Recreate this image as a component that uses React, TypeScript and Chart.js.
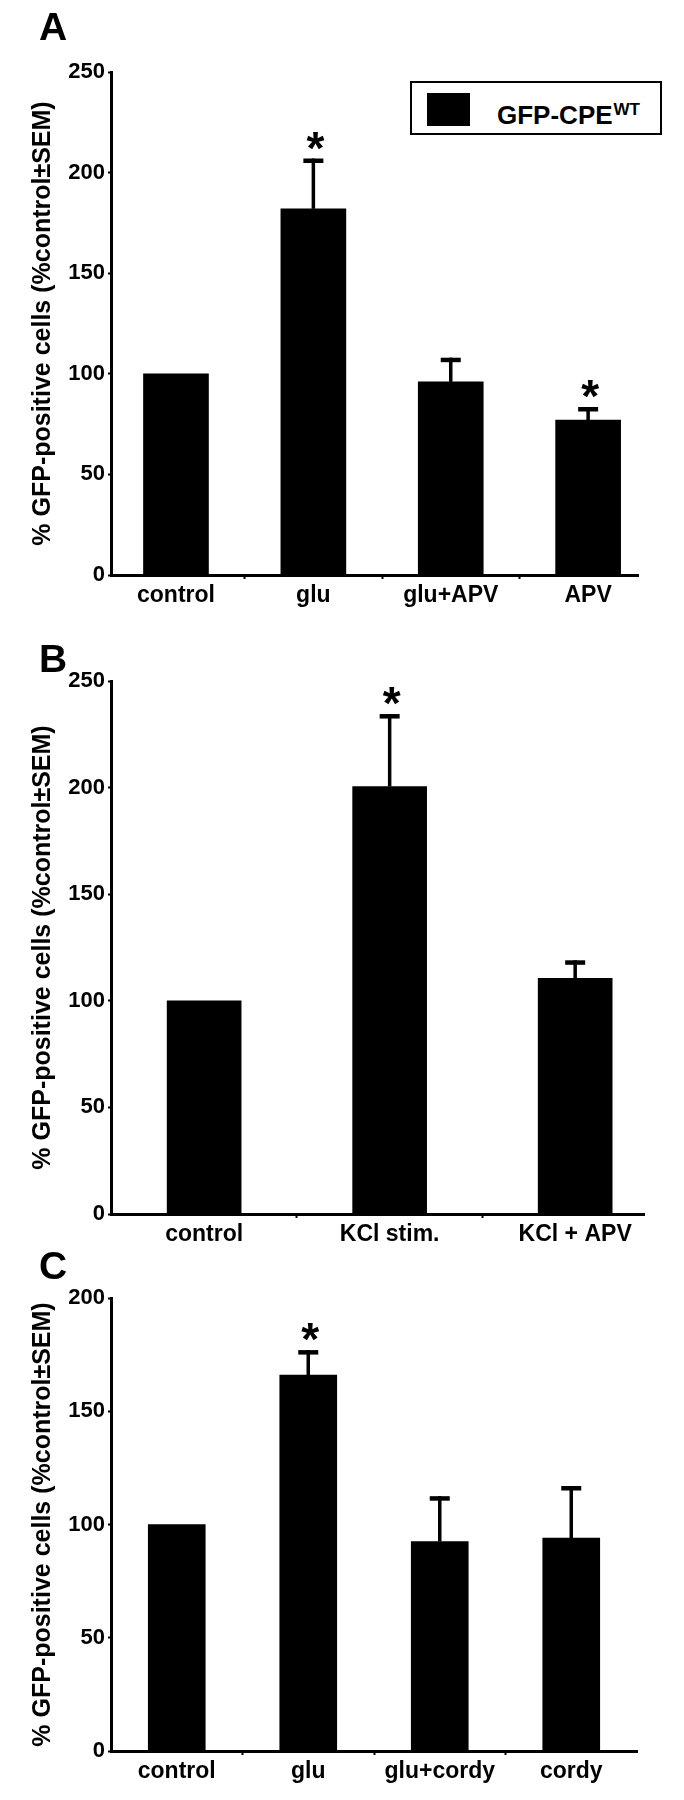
import React, { useEffect, useRef } from 'react';
import { Chart, registerables } from 'chart.js';

Chart.register(...registerables);

// ---------- data ----------
const yTitle = '% GFP-positive cells (%control\u00B1SEM)';
const legendLabel = 'GFP-CPE';
const legendSup = 'WT';

const catsA = ['control', 'glu', 'glu+APV', 'APV'];
const meanA = [100, 182, 96, 77];
const semA = [0, 25, 12, 6.5];
const sigA = [false, true, false, true];

const catsB = ['control', 'KCl stim.', 'KCl + APV'];
const meanB = [100, 200.5, 110.5];
const semB = [0, 34, 8.5];
const sigB = [false, true, false];

const catsC = ['control', 'glu', 'glu+cordy', 'cordy'];
const meanC = [100, 166, 92.5, 94];
const semC = [0, 11, 20, 23];
const sigC = [false, true, false, false];

const yMaxAB = 250;
const yMaxC = 200;
const yStep = 50;

const FONT = '"Liberation Sans", Arial, Helvetica, sans-serif';

const errPlugin = {
  id: 'errBars',
  afterDatasetsDraw(chart: any, _args: any, opts: any) {
    const { ctx } = chart;
    const meta = chart.getDatasetMeta(0);
    const ys = chart.scales.y;
    const { means, sems, stars } = opts;
    ctx.save();
    ctx.fillStyle = '#000';
    meta.data.forEach((bar: any, i: number) => {
      const x = bar.x;
      const yBar = bar.y;
      const yTop = ys.getPixelForValue(means[i] + sems[i]);
      if (sems[i] > 0) {
        ctx.fillRect(x - 1.75, yTop, 3.5, yBar - yTop);
        ctx.fillRect(x - 10, yTop, 20, 4.5);
      }
      if (stars[i]) {
        ctx.font = `bold 46px ${FONT}`;
        ctx.textAlign = 'center';
        ctx.textBaseline = 'alphabetic';
        const m = ctx.measureText('*');
        const cy = yTop - 18;
        const base = cy + (m.actualBoundingBoxAscent - m.actualBoundingBoxDescent) / 2;
        ctx.fillText('*', x + 2, base);
      }
    });
    ctx.restore();
  },
};

type PanelProps = {
  cats: string[];
  means: number[];
  sems: number[];
  stars: boolean[];
  yMax: number;
  top: number;
  height: number;
  padTop: number;
  padRight: number;
  padBottom: number;
  xAxisH: number;
  xMin: number;
  xMax: number;
  bar: number;
};

function Panel(p: PanelProps) {
  const ref = useRef<HTMLCanvasElement>(null);
  useEffect(() => {
    if (!ref.current) return;
    const tickVals: number[] = [];
    p.cats.forEach((_c, i) => {
      tickVals.push(i);
      if (i < p.cats.length - 1) tickVals.push(i + 0.5);
    });
    const chart = new Chart(ref.current, {
      type: 'bar',
      data: {
        datasets: [
          {
            label: legendLabel,
            data: p.means.map((v, i) => ({ x: i, y: v })),
            backgroundColor: '#000',
            borderWidth: 0,
            barThickness: p.bar,
          } as any,
        ],
      },
      options: {
        responsive: false,
        animation: false,
        layout: { padding: { top: p.padTop, right: p.padRight, bottom: p.padBottom, left: 0 } },
        plugins: {
          legend: { display: false },
          tooltip: { enabled: false },
          errBars: { means: p.means, sems: p.sems, stars: p.stars },
        } as any,
        scales: {
          x: {
            type: 'linear',
            min: p.xMin,
            max: p.xMax,
            offset: false,
            afterBuildTicks: (s: any) => {
              s.ticks = tickVals.map((v) => ({ value: v }));
            },
            afterFit: (s: any) => {
              s.height = p.xAxisH;
            },
            ticks: {
              autoSkip: false,
              maxRotation: 0,
              minRotation: 0,
              padding: 3,
              color: '#000',
              font: { family: FONT, size: 23, weight: 'bold' },
              callback: (v: any) => (Number.isInteger(v) ? p.cats[v] : ''),
            },
            grid: {
              offset: false,
              drawOnChartArea: false,
              drawTicks: true,
              tickLength: 4,
              tickWidth: 2,
              tickColor: (c: any) =>
                c.tick && c.tick.value % 1 !== 0 ? '#000' : 'rgba(0,0,0,0)',
            },
            border: { display: true, color: '#000', width: 3 },
          } as any,
          y: {
            min: 0,
            max: p.yMax,
            afterFit: (s: any) => {
              s.width = 111;
            },
            ticks: {
              stepSize: yStep,
              padding: 3,
              color: '#000',
              font: { family: FONT, size: 22, weight: 'bold' },
            },
            grid: { drawOnChartArea: false, tickLength: 3, tickWidth: 2, tickColor: '#000' },
            border: { color: '#000', width: 3 },
            title: {
              display: true,
              text: yTitle,
              color: '#000',
              font: { family: FONT, size: 25, weight: 'bold' },
              padding: { top: 28, bottom: 0 },
            },
          } as any,
        },
      },
      plugins: [errPlugin as any],
    });
    return () => chart.destroy();
  }, []);
  return (
    <canvas
      ref={ref}
      width={684}
      height={p.height}
      style={{ position: 'absolute', left: 0, top: p.top, width: 684, height: p.height }}
    />
  );
}

const letterStyle = (top: number): React.CSSProperties => ({
  position: 'absolute',
  left: 39,
  top,
  fontFamily: FONT,
  fontWeight: 'bold',
  fontSize: 39,
  lineHeight: '39px',
  color: '#000',
  zIndex: 2,
});

export default function App() {
  return (
    <div
      style={{
        position: 'absolute',
        left: 0,
        top: 0,
        width: 684,
        height: 1800,
        background: '#fff',
        overflow: 'hidden',
      }}
    >
      <Panel
        cats={catsA}
        means={meanA}
        sems={semA}
        stars={sigA}
        yMax={yMaxAB}
        top={0}
        height={620}
        padTop={72}
        padRight={46}
        padBottom={5}
        xAxisH={40}
        xMin={-0.473}
        xMax={3.363}
        bar={65}
      />
      <Panel
        cats={catsB}
        means={meanB}
        sems={semB}
        stars={sigB}
        yMax={yMaxAB}
        top={620}
        height={630}
        padTop={61}
        padRight={40}
        padBottom={2}
        xAxisH={34}
        xMin={-0.502}
        xMax={2.371}
        bar={74}
      />
      <Panel
        cats={catsC}
        means={meanC}
        sems={semC}
        stars={sigC}
        yMax={yMaxC}
        top={1250}
        height={550}
        padTop={48}
        padRight={47}
        padBottom={9}
        xAxisH={40}
        xMin={-0.5}
        xMax={3.5}
        bar={57}
      />
      <div style={letterStyle(7)}>A</div>
      <div style={letterStyle(639)}>B</div>
      <div style={letterStyle(1246)}>C</div>
      <div
        style={{
          position: 'absolute',
          left: 410,
          top: 81,
          width: 248,
          height: 50,
          border: '2px solid #000',
          background: '#fff',
          zIndex: 2,
        }}
      >
        <div
          style={{
            position: 'absolute',
            left: 15,
            top: 10,
            width: 43,
            height: 33,
            background: '#000',
          }}
        />
        <div
          style={{
            position: 'absolute',
            left: 85,
            top: 19,
            fontFamily: FONT,
            fontWeight: 'bold',
            fontSize: 26,
            lineHeight: '26px',
            color: '#000',
            whiteSpace: 'nowrap',
          }}
        >
          {legendLabel}
          <span style={{ fontSize: 17, position: 'relative', top: -9, marginLeft: 1 }}>
            {legendSup}
          </span>
        </div>
      </div>
    </div>
  );
}
